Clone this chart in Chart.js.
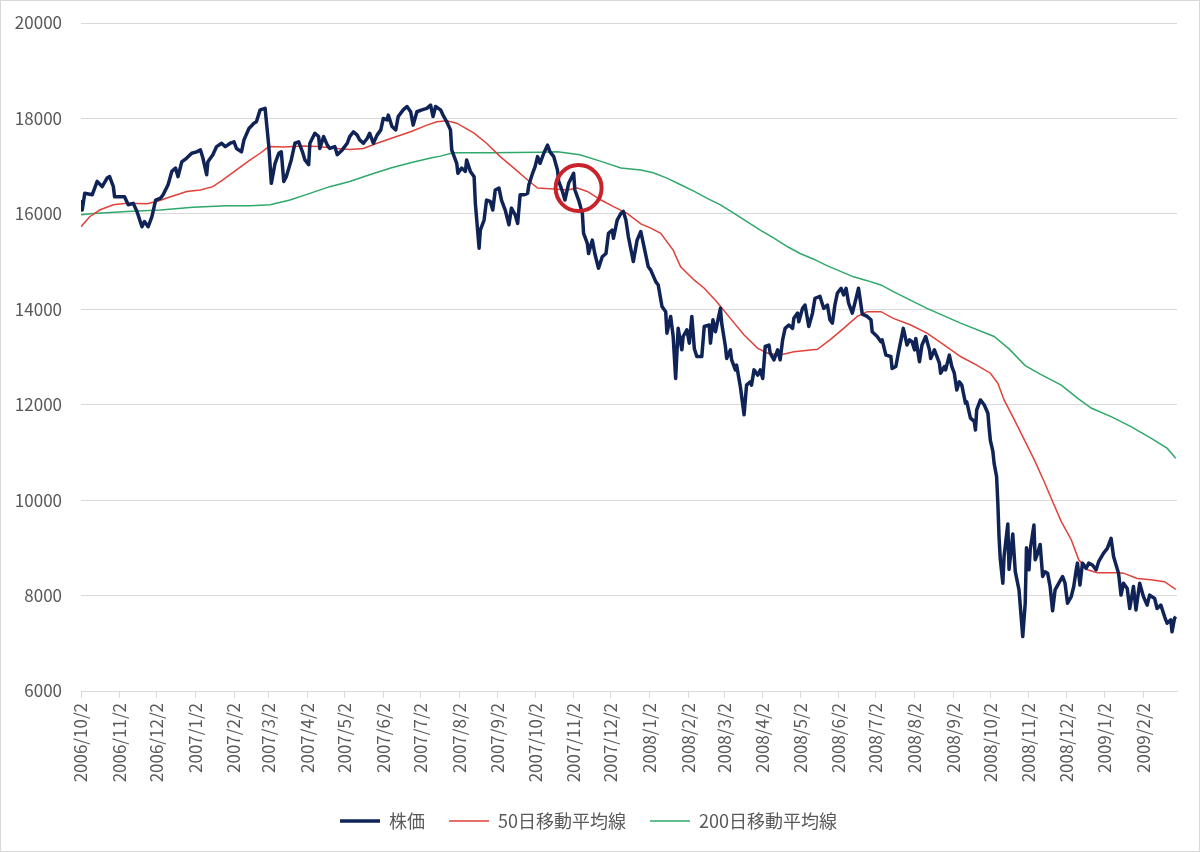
<!DOCTYPE html>
<html lang="ja">
<head>
<meta charset="UTF-8">
<title>株価と移動平均線</title>
<script src="https://cdn.jsdelivr.net/npm/chart.js@4"></script>
<style>
  body { margin: 0; background: #fff; }
</style>
</head>
<body>
<canvas id="stockChart" width="1200" height="852"></canvas>
<script>
// all x values are days counted from startDate
var startDate = '2006/10/2';

var tickLabels = ['2006/10/2', '2006/11/2', '2006/12/2', '2007/1/2', '2007/2/2', '2007/3/2', '2007/4/2',
    '2007/5/2', '2007/6/2', '2007/7/2', '2007/8/2', '2007/9/2', '2007/10/2', '2007/11/2', '2007/12/2',
    '2008/1/2', '2008/2/2', '2008/3/2', '2008/4/2', '2008/5/2', '2008/6/2', '2008/7/2', '2008/8/2',
    '2008/9/2', '2008/10/2', '2008/11/2', '2008/12/2', '2009/1/2', '2009/2/2'];

var seriesNames = ['株価', '50日移動平均線', '200日移動平均線'];

// [day, value]
var price = [
    [0,16290],[1,16080],[3,16430],[9,16400],[13,16680],[17,16570],[21,16750],[23,16780],[26,16570],[27,16360],
    [35,16360],[38,16190],[42,16220],[45,16050],[49,15730],[51,15840],[54,15730],[57,15940],[60,16290],[64,16330],
    [66,16400],[70,16610],[73,16890],[76,16960],[78,16780],[81,17090],[85,17170],[89,17270],[93,17300],[96,17340],
    [98,17170],[101,16820],[102,17090],[106,17240],[109,17410],[113,17480],[116,17410],[120,17480],[123,17510],[125,17370],
    [129,17300],[131,17550],[135,17790],[139,17900],[141,17930],[144,18180],[148,18210],[151,17410],[153,16640],[156,17060],
    [159,17270],[161,17300],[163,16680],[165,16780],[169,17130],[172,17480],[175,17510],[178,17300],[180,17130],[183,17030],
    [184,17480],[188,17690],[191,17620],[192,17370],[195,17620],[198,17440],[200,17370],[204,17410],[206,17240],[210,17340],
    [214,17480],[216,17620],[219,17720],[222,17650],[224,17550],[227,17480],[230,17580],[232,17690],[235,17480],[238,17650],
    [241,17760],[243,18000],[246,17970],[247,18070],[250,17830],[253,17760],[255,18040],[259,18180],[262,18250],[265,18140],
    [267,17860],[270,18140],[274,18180],[278,18210],[281,18280],[283,18040],[285,18250],[289,18180],[291,18070],[294,17930],
    [297,17760],[298,17340],[302,17060],[303,16850],[306,16960],[309,16890],[310,17130],[313,16890],[316,16780],[317,16220],
    [320,15280],[321,15660],[324,15870],[326,16290],[329,16260],[331,16080],[333,16500],[336,16540],[338,16290],[341,16080],
    [344,15770],[346,16120],[349,15980],[351,15800],[353,16400],[356,16400],[359,16430],[360,16610],[363,16850],[365,16990],
    [367,17200],[369,17060],[372,17270],[375,17440],[377,17300],[380,17200],[383,16920],[384,16680],[387,16470],[389,16290],
    [392,16640],[396,16850],[397,16500],[400,16290],[403,16010],[404,15590],[407,15380],[408,15170],[411,15450],[413,15170],
    [416,14860],[419,15100],[422,15170],[424,15590],[427,15660],[428,15490],[431,15870],[434,16010],[436,16050],[438,15870],
    [440,15520],[444,15000],[447,15450],[450,15630],[452,15380],[456,14890],[458,14820],[462,14580],[464,14510],[467,14060],
    [470,13950],[471,13500],[474,13850],[476,13430],[478,12550],[480,13600],[483,13150],[484,13430],[487,13570],[489,13290],
    [491,13850],[493,13180],[495,13010],[499,13010],[501,13640],[505,13670],[506,13290],[508,13780],[510,13530],[514,14020],
    [515,13710],[518,13220],[519,12970],[522,13150],[523,12940],[526,12730],[527,12830],[530,12380],[533,11790],[535,12410],
    [538,12480],[539,12410],[541,12730],[544,12620],[546,12730],[548,12550],[550,13220],[553,13250],[554,13080],[557,12940],
    [560,13150],[562,12940],[564,13360],[566,13600],[569,13670],[572,13600],[573,13810],[576,13920],[577,13740],[580,14020],
    [582,14090],[585,13640],[588,13920],[590,14230],[594,14270],[597,14020],[600,14090],[602,13780],[604,13710],[606,14090],
    [608,14340],[611,14440],[613,14300],[615,14440],[617,14130],[620,13920],[623,14230],[625,14440],[628,13900],[632,13850],
    [635,13780],[636,13530],[640,13430],[643,13320],[644,13360],[647,13040],[651,13010],[652,12760],[655,12800],[657,13080],
    [661,13600],[664,13250],[666,13360],[668,13320],[670,13150],[671,13390],[674,12900],[675,13080],[676,13250],[679,13430],
    [682,13150],[683,12970],[686,13150],[690,12870],[691,12660],[694,12800],[695,12730],[698,13040],[700,12800],[702,12660],
    [704,12310],[706,12480],[708,12410],[711,12030],[712,12060],[715,11720],[718,11650],[719,11470],[720,11890],[723,12100],
    [726,12000],[729,11820],[730,11510],[731,11250],[733,11020],[734,10770],[736,10490],[737,9930],[738,9200],[739,8750],
    [741,8260],[742,8820],[745,9500],[746,8550],[749,9290],[751,8500],[754,8120],[757,7140],[759,7840],[760,9000],
    [762,8540],[763,8960],[766,9480],[767,8750],[769,8890],[771,9070],[773,8400],[775,8500],[777,8470],[779,8190],
    [781,7680],[783,8120],[786,8260],[789,8400],[791,8260],[793,7840],[796,7980],[798,8190],[800,8540],[801,8680],
    [803,8220],[805,8680],[808,8570],[810,8680],[813,8640],[816,8540],[818,8710],[822,8890],[825,8990],[828,9200],
    [830,8820],[834,8470],[836,8010],[838,8260],[841,8150],[843,7730],[846,8190],[848,7700],[851,8260],[854,7980],
    [857,7800],[859,8010],[863,7940],[865,7730],[868,7800],[871,7560],[873,7420],[876,7490],[877,7240],[879,7520],
    [880,7560]
];

var ma50 = [
    [0,15730],[7,15940],[15,16080],[26,16190],[37,16220],[53,16210],[61,16260],[72,16360],[85,16470],[96,16500],
    [106,16570],[114,16710],[125,16920],[136,17130],[144,17270],[151,17410],[163,17400],[179,17420],[190,17410],[206,17370],
    [216,17350],[227,17370],[238,17480],[249,17580],[265,17720],[278,17860],[286,17930],[294,17950],[302,17900],[316,17690],
    [326,17480],[337,17200],[348,16960],[359,16710],[367,16540],[380,16520],[391,16500],[399,16540],[407,16470],[418,16290],
    [428,16150],[439,16010],[450,15790],[458,15700],[466,15590],[476,15240],[482,14890],[493,14610],[501,14440],[511,14160],
    [522,13810],[533,13460],[544,13180],[552,13080],[562,13040],[573,13110],[592,13160],[602,13360],[613,13600],[624,13850],
    [632,13950],[643,13950],[653,13810],[667,13670],[680,13500],[694,13250],[707,13010],[720,12830],[731,12660],[737,12450],
    [742,12100],[750,11700],[758,11280],[766,10860],[774,10400],[781,9970],[788,9550],[796,9170],[802,8750],[809,8540],
    [817,8480],[833,8480],[838,8470],[849,8360],[860,8330],[871,8290],[880,8130]
];

var ma200 = [
    [0,15980],[10,16010],[37,16050],[64,16080],[90,16140],[117,16170],[136,16170],[152,16190],[168,16290],[184,16430],
    [200,16570],[216,16680],[232,16820],[249,16960],[265,17070],[281,17170],[289,17210],[299,17280],[329,17280],[369,17290],
    [383,17300],[401,17240],[418,17100],[434,16960],[450,16920],[460,16860],[471,16750],[482,16610],[493,16470],[503,16330],
    [514,16190],[525,16010],[535,15840],[546,15660],[557,15490],[568,15310],[578,15170],[589,15050],[600,14910],[611,14790],
    [621,14680],[632,14600],[643,14510],[653,14370],[680,14020],[707,13710],[734,13430],[746,13170],[759,12820],[771,12640],
    [788,12410],[801,12140],[812,11930],[828,11750],[844,11540],[860,11300],[873,11090],[880,10880]
];

// the circled crossover (day, value)
var crossDay = 400;
var crossValue = 16540;

function dayOffset(s) {
    var a = s.split('/').map(Number);
    var b = startDate.split('/').map(Number);
    return Math.round((Date.UTC(a[0], a[1] - 1, a[2]) - Date.UTC(b[0], b[1] - 1, b[2])) / 86400000);
}

function toPoints(arr) {
    return arr.map(function (p) { return { x: p[0], y: p[1] }; });
}

var tickDays = tickLabels.map(dayOffset);

Chart.defaults.font.family = '"Noto Sans CJK JP", "Noto Sans", sans-serif';
Chart.defaults.color = '#595959';

// white background, chart border and the red circle
var decoPlugin = {
    id: 'deco',
    beforeDraw: function (chart) {
        var ctx = chart.ctx;
        ctx.save();
        ctx.fillStyle = '#ffffff';
        ctx.fillRect(0, 0, chart.width, chart.height);
        ctx.strokeStyle = '#d9d9d9';
        ctx.lineWidth = 1;
        ctx.strokeRect(0.5, 0.5, chart.width - 1, chart.height - 1);
        ctx.restore();
    },
    afterDatasetsDraw: function (chart) {
        var ctx = chart.ctx;
        var cx = chart.scales.x.getPixelForValue(crossDay);
        var cy = chart.scales.y.getPixelForValue(crossValue);
        ctx.save();
        ctx.beginPath();
        ctx.arc(cx, cy, 23, 0, Math.PI * 2);
        ctx.strokeStyle = '#c8232b';
        ctx.lineWidth = 4;
        ctx.stroke();
        ctx.restore();
    }
};

var ctx = document.getElementById('stockChart').getContext('2d');
var stockChart = new Chart(ctx, {
    type: 'line',
    data: {
        datasets: [{
            label: seriesNames[0],
            data: toPoints(price),
            borderColor: '#0f2357',
            borderWidth: 3.5,
            borderJoinStyle: 'round'
        }, {
            label: seriesNames[1],
            data: toPoints(ma50),
            borderColor: '#e0413a',
            borderWidth: 1.5
        }, {
            label: seriesNames[2],
            data: toPoints(ma200),
            borderColor: '#2fa86a',
            borderWidth: 1.5
        }]
    },
    options: {
        responsive: false,
        animation: false,
        elements: {
            point: { radius: 0, hitRadius: 0 },
            line: { tension: 0, fill: false }
        },
        layout: {
            padding: { left: 0, right: 23, top: 23, bottom: 12 }
        },
        plugins: {
            tooltip: { enabled: false },
            legend: {
                position: 'bottom',
                labels: {
                    usePointStyle: true,
                    pointStyle: 'line',
                    pointStyleWidth: 40,
                    padding: 24,
                    color: '#595959',
                    font: { size: 18 }
                }
            }
        },
        scales: {
            x: {
                type: 'linear',
                min: 0,
                max: 881,
                afterBuildTicks: function (scale) {
                    scale.ticks = tickDays.map(function (d) { return { value: d }; });
                },
                afterFit: function (scale) {
                    scale.height = 97;
                },
                ticks: {
                    autoSkip: false,
                    minRotation: 90,
                    maxRotation: 90,
                    padding: 5,
                    color: '#595959',
                    font: { size: 17 },
                    callback: function (value, index) {
                        return tickLabels[index];
                    }
                },
                grid: {
                    drawOnChartArea: false,
                    drawTicks: true,
                    tickLength: 7,
                    color: '#d9d9d9'
                },
                border: { display: true, color: '#d9d9d9' }
            },
            y: {
                min: 6000,
                max: 20000,
                afterFit: function (scale) {
                    scale.width = 81;
                    scale.paddingTop = 0;
                    scale.paddingBottom = 0;
                },
                ticks: {
                    stepSize: 2000,
                    padding: 19,
                    color: '#595959',
                    font: { size: 17 },
                    callback: function (value) {
                        return String(value);
                    }
                },
                grid: {
                    color: '#d9d9d9',
                    drawTicks: false
                },
                border: { display: false }
            }
        }
    },
    plugins: [decoPlugin]
});
</script>
</body>
</html>
